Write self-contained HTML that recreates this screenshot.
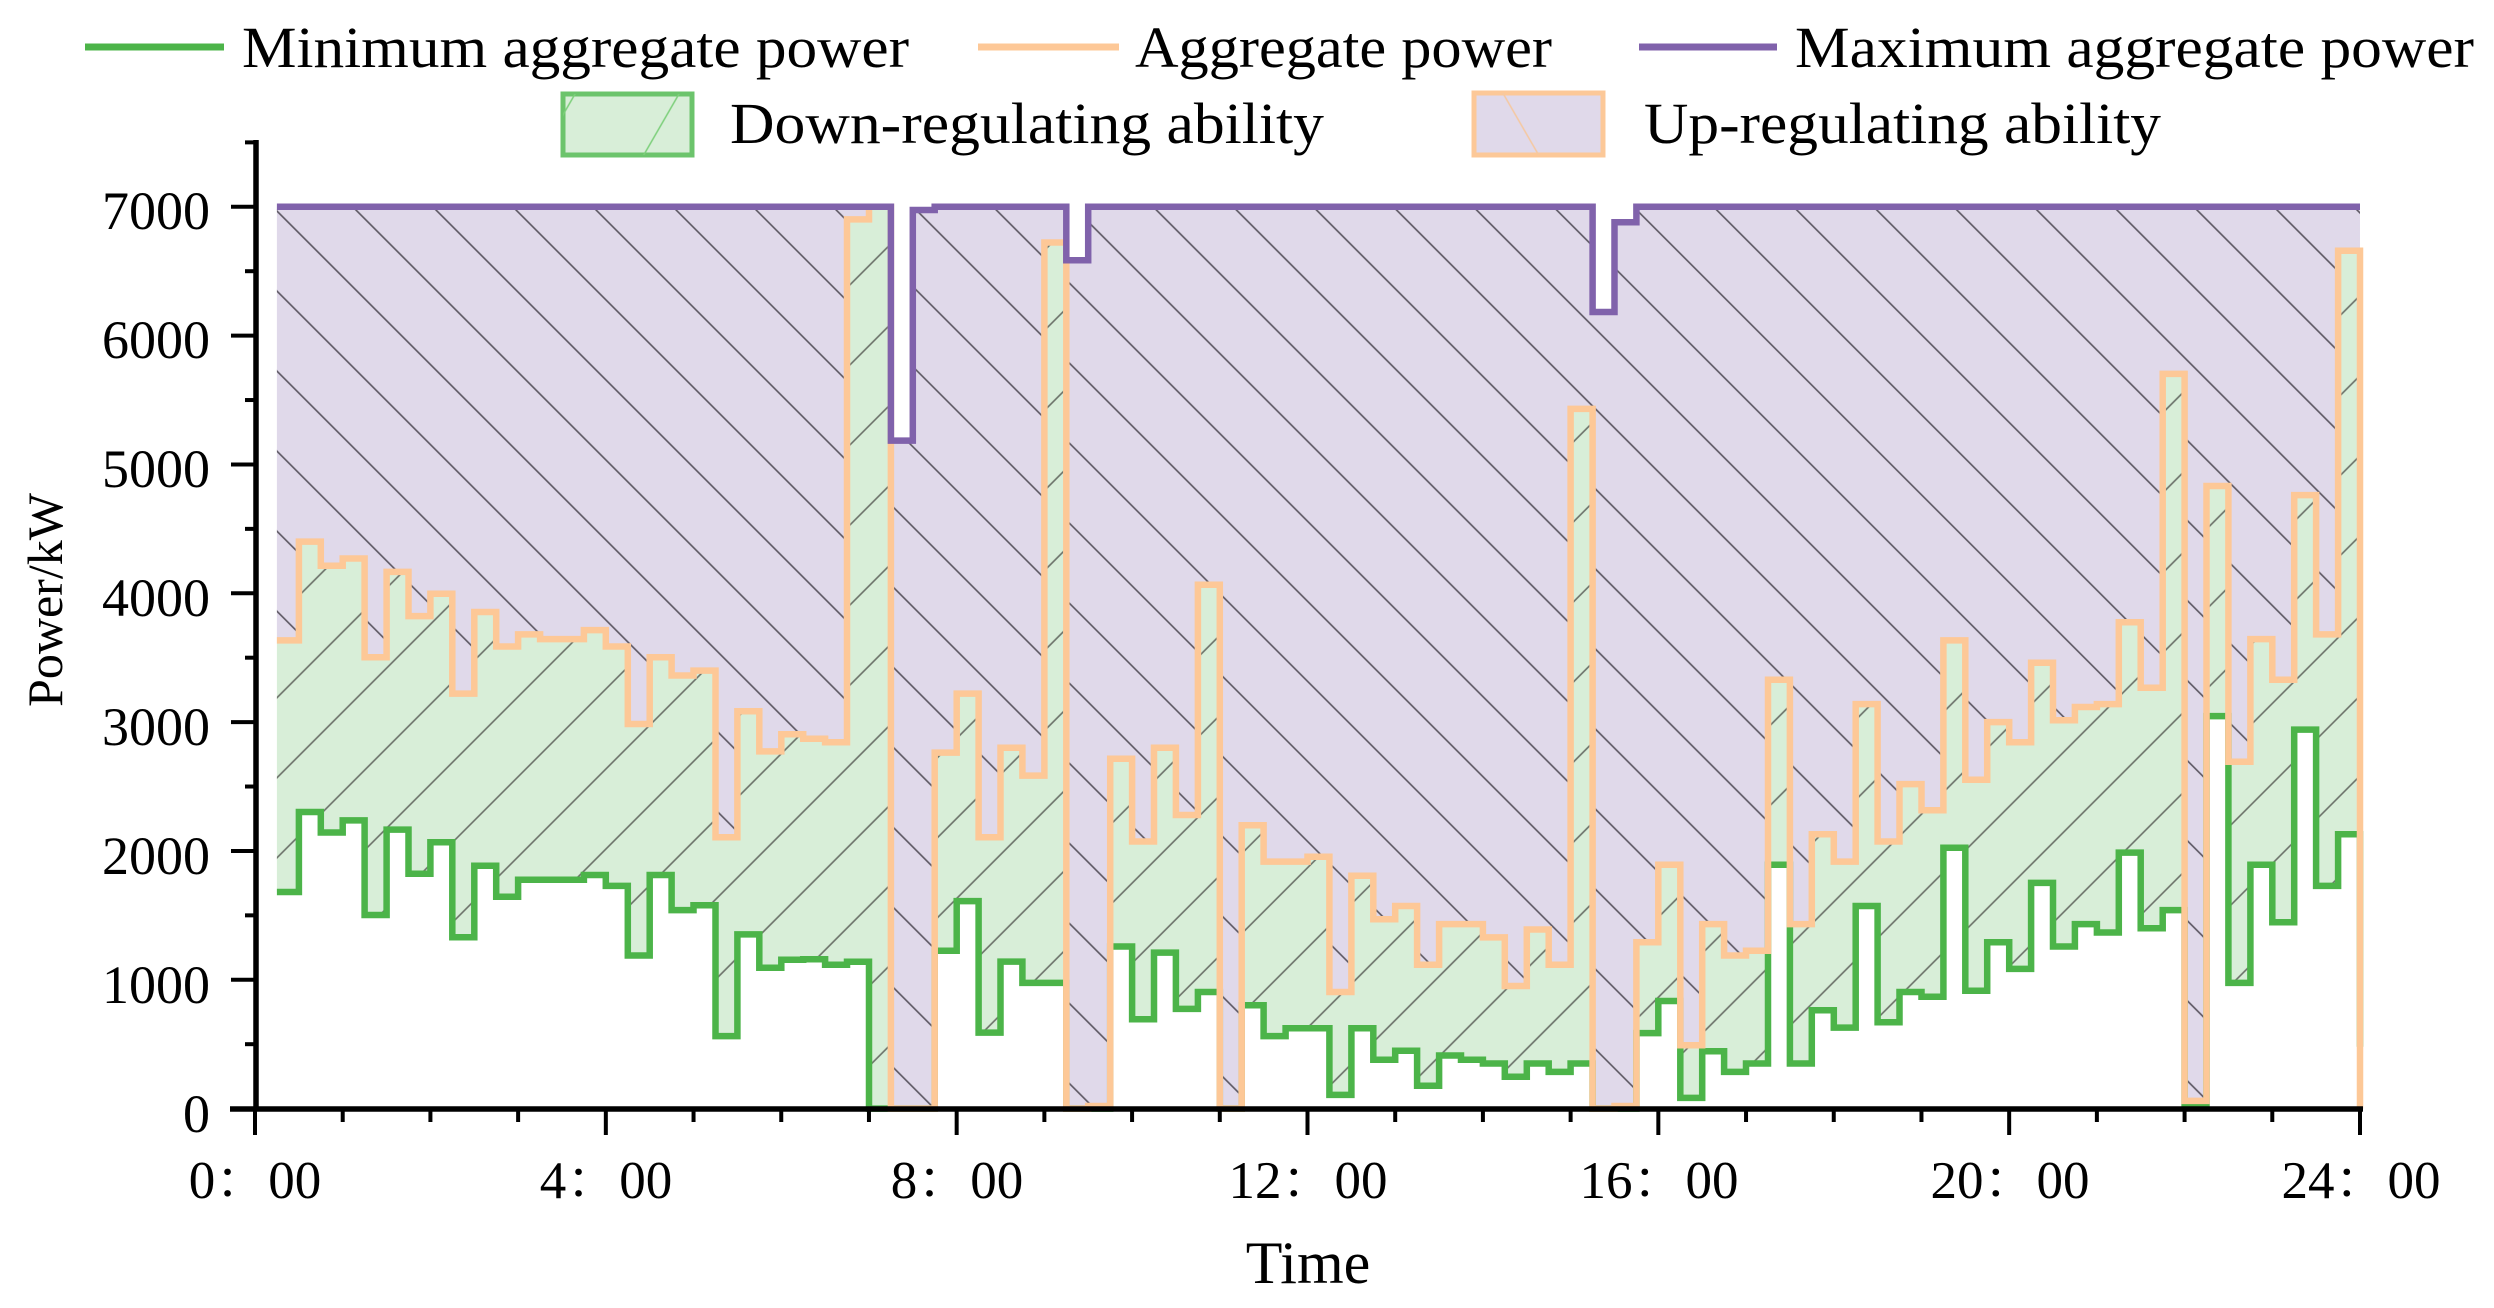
<!DOCTYPE html>
<html><head><meta charset="utf-8">
<style>
html,body{margin:0;padding:0;background:#fff;}
svg{display:block;}
text{font-family:"Liberation Serif","Noto Serif CJK SC",serif;fill:#000;}
</style></head>
<body>
<svg id="s" width="2494" height="1308" viewBox="0 0 2494 1308" xmlns="http://www.w3.org/2000/svg">
<defs>
<pattern id="hp" patternUnits="userSpaceOnUse" width="56.6" height="56.6" patternTransform="rotate(45)">
<line x1="0" y1="10" x2="56.6" y2="10" stroke="#5a5560" stroke-width="1.6"/>
</pattern>
<pattern id="hg" patternUnits="userSpaceOnUse" width="56.6" height="56.6" patternTransform="rotate(-45)">
<line x1="0" y1="10" x2="56.6" y2="10" stroke="#6a7068" stroke-width="1.6"/>
</pattern>
<pattern id="lp" patternUnits="userSpaceOnUse" width="90" height="90" patternTransform="rotate(60)">
<line x1="0" y1="5" x2="90" y2="5" stroke="#f5c8a0" stroke-width="1.6"/>
</pattern>
<pattern id="lg" patternUnits="userSpaceOnUse" width="90" height="90" patternTransform="rotate(-60)">
<line x1="0" y1="5" x2="90" y2="5" stroke="#7ccf7a" stroke-width="1.6"/>
</pattern>
</defs>
<g id="plot"></g>

<g stroke="#000" stroke-width="5.5" fill="none">
<line x1="256" y1="140" x2="256" y2="1111"/>
<line x1="230" y1="1109" x2="2363" y2="1109"/>
</g>
<g id="ticks" stroke="#000" stroke-width="4"></g>

<g font-size="54" text-anchor="end">
<text x="210" y="229">7000</text>
<text x="210" y="358">6000</text>
<text x="210" y="487">5000</text>
<text x="210" y="616">4000</text>
<text x="210" y="745">3000</text>
<text x="210" y="874">2000</text>
<text x="210" y="1003">1000</text>
<text x="210" y="1132">0</text>
</g>
<g font-size="53" text-anchor="middle">
<text x="255" y="1198">0：00</text>
<text x="606" y="1198">4：00</text>
<text x="957" y="1198">8：00</text>
<text x="1308" y="1198">12：00</text>
<text x="1659" y="1198">16：00</text>
<text x="2010" y="1198">20：00</text>
<text x="2361" y="1198">24：00</text>
</g>
<text x="1308" y="1283" font-size="60" text-anchor="middle">Time</text>
<text transform="translate(62,600) rotate(-90)" font-size="50" text-anchor="middle">Power/kW</text>

<line x1="85" y1="47" x2="224" y2="47" stroke="#4cb449" stroke-width="7"/>
<text x="242" y="67" font-size="58" textLength="667" lengthAdjust="spacingAndGlyphs">Minimum aggregate power</text>
<line x1="978" y1="47" x2="1119" y2="47" stroke="#fdc897" stroke-width="7"/>
<text x="1135" y="67" font-size="58" textLength="417" lengthAdjust="spacingAndGlyphs">Aggregate power</text>
<line x1="1639" y1="47" x2="1777" y2="47" stroke="#8062ab" stroke-width="7"/>
<text x="1795" y="67" font-size="58" textLength="679" lengthAdjust="spacingAndGlyphs">Maximum aggregate power</text>

<rect x="563" y="94" width="129" height="61" fill="#d8eed8" stroke="#6cc46c" stroke-width="5"/>
<rect x="563" y="94" width="129" height="61" fill="url(#lg)"/>
<text x="730" y="143" font-size="58" textLength="594" lengthAdjust="spacingAndGlyphs">Down-regulating ability</text>
<rect x="1474" y="93" width="129" height="62" fill="#e0d9ea" stroke="#fcc898" stroke-width="5"/>
<rect x="1474" y="93" width="129" height="62" fill="url(#lp)"/>
<text x="1644" y="143" font-size="58" textLength="517" lengthAdjust="spacingAndGlyphs">Up-regulating ability</text>
</svg>
<script>
(function(){
var A=[3634,4401,4213,4270,3503,4166,3823,3997,3221,3855,
3587,3681,3644,3644,3714,3587,2985,3503,3362,3400,
2106,3084,2773,2905,2871,2843,6902,7000,0,0,
2763,3221,2106,2801,2585,6723,0,20,2716,2073,
2801,2279,4066,0,2199,1917,1917,1955,905,1808,
1470,1573,1117,1432,1432,1329,952,1390,1117,5431,
0,20,1291,1893,492,1432,1188,1225,3329,1432,
2129,1917,3140,2073,2519,2316,3634,2552,3000,2843,
3460,3014,3117,3140,3775,3267,5703,60,4833,2693,
3644,3329,4762,3681,6658];
var G=[1681,2302,2143,2237,1503,2166,1823,2068,1330,1885,
1645,1776,1776,1776,1813,1729,1188,1813,1541,1579,
563,1352,1094,1155,1160,1117,1140,0,0,0,
1225,1611,590,1141,976,976,0,0,1258,694,
1211,774,905,0,802,563,624,624,106,624,
379,449,177,412,379,350,247,350,285,350,
0,0,586,835,83,445,285,350,1893,350,
764,629,1573,671,905,868,2025,915,1291,1084,
1752,1258,1432,1367,1987,1400,1541,36,3047,976,
1893,1447,2942,1729,2129];
var M=[];for(var i=0;i<95;i++)M.push(7000);
M[28]=5185;M[29]=6975;M[36]=6585;M[60]=6183;M[61]=6880;
function X(t){return 255+t*(2360-255)/24;}
function Y(v){return 1108.6-v*0.12883;}
var n=95;
function fwd(arr){var s="";for(var i=0;i<n;i++){var x0=X(0.25+0.25*i),x1=X(0.5+0.25*i),y=Y(arr[i]);s+=(i==0?"M":"L")+x0.toFixed(1)+","+y.toFixed(1)+"L"+x1.toFixed(1)+","+y.toFixed(1);}return s;}
function bwd(arr){var s="";for(var i=n-1;i>=0;i--){var x0=X(0.25+0.25*i),x1=X(0.5+0.25*i),y=Y(arr[i]);s+="L"+x1.toFixed(1)+","+y.toFixed(1)+"L"+x0.toFixed(1)+","+y.toFixed(1);}return s;}
var ns="http://www.w3.org/2000/svg";
var g=document.getElementById("plot");
function P(d,attrs){var p=document.createElementNS(ns,"path");p.setAttribute("d",d);for(var k in attrs)p.setAttribute(k,attrs[k]);g.appendChild(p);}
var up=fwd(M)+bwd(A)+"Z";
var dn=fwd(A)+bwd(G)+"Z";
P(up,{fill:"#e0d9ea"});P(up,{fill:"url(#hp)"});
P(dn,{fill:"#d8eed8"});P(dn,{fill:"url(#hg)"});
var gl=fwd(G)+"L"+X(24).toFixed(1)+","+Y(480).toFixed(1);
P(gl,{fill:"none",stroke:"#4cb449","stroke-width":"6.5","stroke-linejoin":"miter"});
var al=fwd(A)+"L"+X(24).toFixed(1)+","+Y(0).toFixed(1);
P(al,{fill:"none",stroke:"#fdc897","stroke-width":"6.5","stroke-linejoin":"miter"});
P(fwd(M),{fill:"none",stroke:"#8062ab","stroke-width":"6.5","stroke-linejoin":"miter"});
var tk=document.getElementById("ticks");
function L(x1,y1,x2,y2){var l=document.createElementNS(ns,"line");l.setAttribute("x1",x1);l.setAttribute("y1",y1);l.setAttribute("x2",x2);l.setAttribute("y2",y2);tk.appendChild(l);}
for(var v=0;v<=7500;v+=500){var y=Y(v);if(y<140)continue;if(v%1000==0)L(231,y,256,y);else L(245,y,256,y);}
for(var h=0;h<=24;h++){var x=X(h);if(h%4==0)L(x,1109,x,1135);else L(x,1109,x,1122);}
})();
</script>
</body></html>
